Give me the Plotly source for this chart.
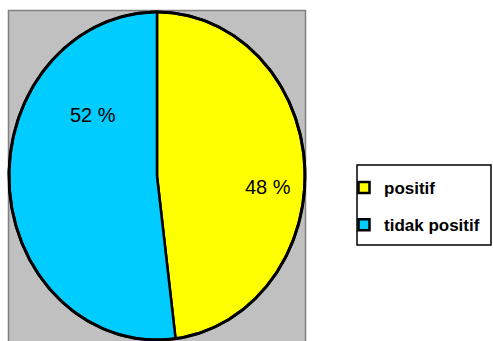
import numpy as np
import plotly.graph_objects as go

categories = ["positif", "tidak positif"]
values = [48, 52]
label_texts = ["48 %", "52 %"]
colors = ["#FFFF00", "#00CCFF"]

W, H = 493, 341
cx, cy, rx, ry = 157.0, 176.0, 148.0, 164.0

fig = go.Figure()

# background plot-area box
fig.add_shape(type="rect", x0=8.5, x1=305.5, y0=10.5, y1=345,
              fillcolor="#C0C0C0", line=dict(color="#808080", width=1.5), layer="below")
# legend frame
fig.add_shape(type="rect", x0=357, x1=491, y0=165, y1=245,
              fillcolor="white", line=dict(color="black", width=1.5), layer="below")

total = float(sum(values))
start = 0.0
for cat, v, col in zip(categories, values, colors):
    span = 2 * np.pi * v / total
    t = np.linspace(start, start + span, 200)
    xs = np.concatenate([[cx], cx + rx * np.sin(t), [cx]])
    ys = np.concatenate([[cy], cy - ry * np.cos(t), [cy]])
    fig.add_trace(go.Scatter(x=xs, y=ys, mode="lines", fill="toself", fillcolor=col,
                             line=dict(color="black", width=2.5), showlegend=False,
                             hoverinfo="skip"))
    start += span

# outer outline
tt = np.linspace(0, 2 * np.pi, 400)
fig.add_trace(go.Scatter(x=cx + rx * np.sin(tt), y=cy - ry * np.cos(tt), mode="lines",
                         line=dict(color="black", width=3), showlegend=False, hoverinfo="skip"))

# legend entries
for i, (cat, col) in enumerate(zip(categories, colors)):
    fig.add_trace(go.Scatter(x=[None], y=[None], mode="markers", name=cat,
                             legendgroup=f"g{i}",
                             marker=dict(symbol="square", size=11, color=col,
                                         line=dict(color="black", width=2.5))))

label_pos = [(268, 187), (93, 115)]
for txt, (lx, ly) in zip(label_texts, label_pos):
    fig.add_annotation(x=lx, y=ly, text=txt, showarrow=False,
                       font=dict(family="Liberation Sans, Arial", size=20, color="black"))

fig.update_xaxes(range=[0, W], visible=False, domain=[0, 1], fixedrange=True)
fig.update_yaxes(range=[H, 0], visible=False, domain=[0, 1], fixedrange=True)

fig.update_layout(
    width=W, height=H, margin=dict(l=0, r=0, t=0, b=0, autoexpand=False),
    paper_bgcolor="white", plot_bgcolor="white",
    legend=dict(x=344 / W, y=1 - 170 / H, xanchor="left", yanchor="top",
                bgcolor="rgba(0,0,0,0)", borderwidth=0,
                font=dict(family="Liberation Sans, Arial", size=17, color="black", weight="bold"),
                itemwidth=30, tracegroupgap=12),
)

fig.write_html("out.html")
